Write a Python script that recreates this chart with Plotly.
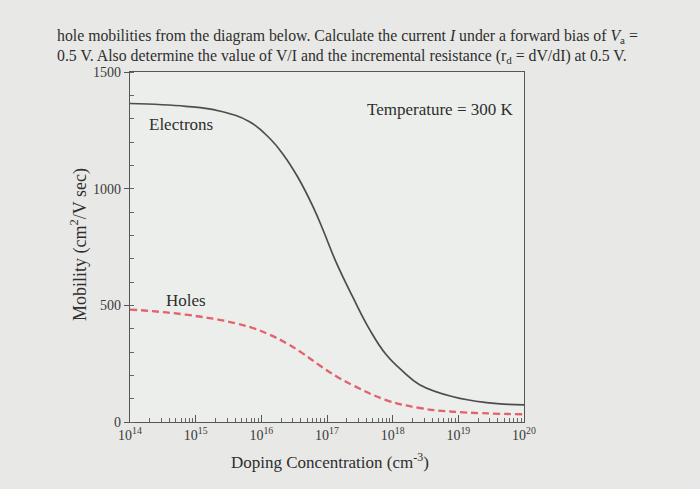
import plotly.graph_objects as go

# ---- data ----
electron_logN = [14.0, 14.85, 15.36, 15.82, 16.13, 16.33, 16.55, 16.79, 16.94, 17.14,
                 17.39, 17.65, 17.90, 18.16, 18.41, 18.92, 19.43, 20.0]
electron_mu = [1365, 1353, 1333, 1287, 1215, 1148, 1052, 921, 823, 684,
               537, 396, 289, 216, 160, 108, 83, 73]

hole_logN = [14.0, 14.34, 14.85, 15.36, 15.61, 15.87, 16.12, 16.38, 16.63, 16.89,
             17.14, 17.39, 17.90, 18.41, 18.92, 20.0]
hole_mu = [482, 475, 460, 438, 423, 403, 375, 338, 294, 242,
           196, 158, 94, 60, 44, 33]

x_tick_exps = [14, 15, 16, 17, 18, 19, 20]
y_tick_vals = [0, 500, 1000, 1500]

electron_N = [10.0 ** v for v in electron_logN]
hole_N = [10.0 ** v for v in hole_logN]

W, H = 700, 489
L, R, T, B = 130, 176, 72, 67
PW, PH = W - L - R, H - T - B

def px(x):
    return (x - L) / PW

def py(y):
    return (H - B - y) / PH

SERIF = "Liberation Serif"
INK = "#3a3a3a"

fig = go.Figure()
fig.add_trace(go.Scatter(x=electron_N, y=electron_mu, mode="lines",
                         line=dict(color="#4d4d4d", width=1.7, shape="spline", smoothing=1.2),
                         showlegend=False))
fig.add_trace(go.Scatter(x=hole_N, y=hole_mu, mode="lines",
                         line=dict(color="#e3626b", width=2.3, dash="7px,4px", shape="spline", smoothing=1.2),
                         showlegend=False))

fig.update_layout(
    width=W, height=H,
    margin=dict(l=L, r=R, t=T, b=B),
    paper_bgcolor="#e8e9e6",
    plot_bgcolor="#eceeeb",
    font=dict(family=SERIF, color=INK, size=14),
    xaxis=dict(type="log", range=[14, 20],
               tickvals=[10.0 ** e for e in x_tick_exps],
               ticktext=["10<sup>%d</sup>" % e for e in x_tick_exps],
               ticks="inside", ticklen=7, tickcolor="#555", tickwidth=1,
               minor=dict(ticks="inside", ticklen=4, tickcolor="#666", dtick="D1"),
               showline=True, linecolor="#555", linewidth=1.4, mirror=True,
               showgrid=False, zeroline=False,
               tickfont=dict(family=SERIF, size=14, color=INK)),
    yaxis=dict(range=[0, 1500], tickvals=y_tick_vals,
               ticks="outside", ticklen=5, tickcolor="#555",
               minor=dict(ticks="inside", ticklen=4, tickcolor="#666", dtick=100),
               showline=True, linecolor="#555", linewidth=1.4, mirror=True,
               showgrid=False, zeroline=False,
               tickfont=dict(family=SERIF, size=14, color=INK)),
)

ann = [
    dict(text="hole mobilities from the diagram below. Calculate the current <i>I</i> under a forward bias of <i>V</i><sub>a</sub> =",
         x=px(55), y=py(37), xanchor="left", yanchor="middle", size=15.8),
    dict(text="0.5 V. Also determine the value of V/I and the incremental resistance (r<sub>d</sub> = dV/dI) at 0.5 V.",
         x=px(55), y=py(57), xanchor="left", yanchor="middle", size=15.8),
    dict(text="Electrons", x=px(181), y=py(124), xanchor="center", yanchor="middle", size=17),
    dict(text="Holes", x=px(186), y=py(300), xanchor="center", yanchor="middle", size=17),
    dict(text="Temperature = 300 K", x=px(440), y=py(110), xanchor="center", yanchor="middle", size=17),
    dict(text="Doping Concentration (cm<sup>-3</sup>)", x=px(330), y=py(461),
         xanchor="center", yanchor="middle", size=17),
]
for a in ann:
    size = a.pop("size")
    fig.add_annotation(xref="paper", yref="paper", showarrow=False,
                       font=dict(family=SERIF, size=size, color="#2e2e2e"), **a)

fig.add_annotation(xref="paper", yref="paper", showarrow=False,
                   text="Mobility (cm<sup>2</sup>/V sec)", textangle=-90,
                   x=px(79), y=py(245), xanchor="center", yanchor="middle",
                   font=dict(family=SERIF, size=18, color="#2e2e2e"))

fig.write_html("out.html")
